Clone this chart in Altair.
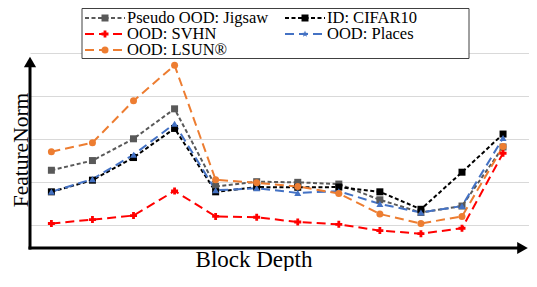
import altair as alt
import pandas as pd

# ---- data ----
depth = list(range(1, 13))
series_names = ["Pseudo OOD: Jigsaw", "ID: CIFAR10", "OOD: SVHN", "OOD: Places", "OOD: LSUN®"]
jigsaw = [3.56, 4.01, 5.02, 6.41, 2.81, 3.03, 3.00, 2.92, 2.19, 1.60, 1.90, 4.64]
cifar10 = [2.56, 3.10, 4.15, 5.50, 2.56, 2.78, 2.77, 2.78, 2.56, 1.75, 3.47, 5.24]
svhn = [1.09, 1.27, 1.46, 2.60, 1.42, 1.38, 1.16, 1.05, 0.76, 0.62, 0.87, 4.35]
places = [2.56, 3.15, 4.28, 5.72, 2.63, 2.73, 2.51, 2.59, 2.00, 1.60, 1.90, 5.06]
lsun = [4.42, 4.84, 6.78, 8.43, 3.12, 2.98, 2.81, 2.48, 1.53, 1.09, 1.42, 4.66]
grid_values = list(range(1, 10))
x_title = "Block Depth"
y_title = "FeatureNorm"

# ---- styles ----
colors = ["#595959", "#000000", "#FF0000", "#4472C4", "#ED7D31"]
dashes = [[4, 2.5], [4, 2.5], [9, 5], [9, 5], [9, 5]]
shapes = ["square", "square", "cross", "triangle-up", "circle"]
star = ("M0,-1L0.235,-0.324L0.951,-0.309L0.38,0.124L0.588,0.809L0,0.4"
        "L-0.588,0.809L-0.38,0.124L-0.951,-0.309L-0.235,-0.324Z")
legend_shapes = ["square", "square", "cross", star, "circle"]
sizes = [49, 49, 50, 60, 64]
FONT = "Liberation Serif"

W, H = 499, 194
PAD = {"left": 22, "top": 45, "right": 0, "bottom": 24}

rows = []
for name, vals in zip(series_names, [jigsaw, cifar10, svhn, places, lsun]):
    for d, v in zip(depth, vals):
        rows.append({"depth": d, "value": v, "series": name})
df = pd.DataFrame(rows)

color_scale = alt.Scale(domain=series_names, range=colors)
dash_scale = alt.Scale(domain=series_names, range=dashes)
shape_scale = alt.Scale(domain=series_names, range=shapes)
lshape_scale = alt.Scale(domain=series_names, range=legend_shapes)
size_scale = alt.Scale(domain=series_names, range=sizes)

xenc = alt.X("depth:Q", scale=alt.Scale(domain=[0.479, 12.632]), axis=None)
yscale = alt.Scale(domain=[0, 9])
yenc = alt.Y("value:Q", scale=yscale,
             axis=alt.Axis(values=grid_values, grid=True, gridColor="#d9d9d9",
                           gridWidth=1, domain=False, ticks=False, labels=False, title=None))

base = alt.Chart(df)
grid = base.mark_line(opacity=0).encode(x=xenc, y=yenc, detail="series:N")

lines = base.mark_line(strokeWidth=2).encode(
    x=xenc, y=alt.Y("value:Q", scale=yscale),
    color=alt.Color("series:N", scale=color_scale, legend=None),
    strokeDash=alt.StrokeDash("series:N", scale=dash_scale, legend=None),
    order=alt.Order("depth:Q"),
)
points = base.mark_point(filled=True, opacity=1).encode(
    x=xenc, y=alt.Y("value:Q", scale=yscale),
    color=alt.Color("series:N", scale=color_scale, legend=None),
    shape=alt.Shape("series:N", scale=shape_scale, legend=None),
    size=alt.Size("series:N", scale=size_scale, legend=None),
)

# axes with arrows
dummy = pd.DataFrame({"k": [0]})
yaxis_line = alt.Chart(dummy).mark_rule(color="black", strokeWidth=3).encode(
    x=alt.value(0), y=alt.value(H + 2.5), y2=alt.value(14))
yaxis_head = alt.Chart(dummy).mark_point(shape="triangle-up", filled=True, color="black",
                                         opacity=1, size=150).encode(
    x=alt.value(0), y=alt.value(9))
xaxis_line = alt.Chart(dummy).mark_rule(color="black", strokeWidth=3).encode(
    x=alt.value(-1.5), x2=alt.value(W - 10), y=alt.value(H + 1))
xaxis_head = alt.Chart(dummy).mark_point(shape="triangle-right", filled=True, color="black",
                                         opacity=1, size=150).encode(
    x=alt.value(W - 6.5), y=alt.value(H + 1))

xt = alt.Chart(pd.DataFrame({"t": [x_title]})).mark_text(
    font=FONT, fontSize=23, color="black", baseline="alphabetic", align="center").encode(
    text="t:N", x=alt.value(224), y=alt.value(H + 20))
yt = alt.Chart(pd.DataFrame({"t": [y_title]})).mark_text(
    font=FONT, fontSize=21.5, color="black", baseline="alphabetic", align="center",
    angle=270).encode(text="t:N", x=alt.value(-2.5), y=alt.value(H / 2))

# legend
box = alt.Chart(dummy).mark_rect(fill="white", stroke="#404040", strokeWidth=1).encode(
    x=alt.value(52), x2=alt.value(439), y=alt.value(-44.5), y2=alt.value(5.5))
leg_rows = []
for i, name in enumerate(series_names):
    r, c = divmod(i, 2)
    x0 = 55 if c == 0 else 255
    leg_rows.append({"series": name, "lx1": x0, "lx2": x0 + 40, "lxm": x0 + 20,
                     "ltx": x0 + 42, "ly": -35 + 16 * r})
ldf = pd.DataFrame(leg_rows)
lbase = alt.Chart(ldf)
leg_lines = lbase.mark_rule(strokeWidth=2).encode(
    x=alt.X("lx1:Q", scale=None), x2="lx2:Q", y=alt.Y("ly:Q", scale=None),
    color=alt.Color("series:N", scale=color_scale, legend=None),
    strokeDash=alt.StrokeDash("series:N", scale=dash_scale, legend=None))
leg_pts = lbase.mark_point(filled=True, opacity=1).encode(
    x=alt.X("lxm:Q", scale=None), y=alt.Y("ly:Q", scale=None),
    color=alt.Color("series:N", scale=color_scale, legend=None),
    shape=alt.Shape("series:N", scale=lshape_scale, legend=None),
    size=alt.Size("series:N", scale=size_scale, legend=None))
leg_txt = lbase.mark_text(font=FONT, fontSize=16.5, color="black", align="left",
                          baseline="middle").encode(
    x=alt.X("ltx:Q", scale=None), y=alt.Y("ly:Q", scale=None), text="series:N")

chart = alt.layer(
    grid, lines, points, yaxis_line, yaxis_head, xaxis_line, xaxis_head, xt, yt,
    box, leg_lines, leg_pts, leg_txt
).resolve_scale(shape="independent").properties(
    width=W, height=H,
    padding=PAD,
    autosize=alt.AutoSizeParams(type="none"),
).configure_view(stroke=None)

chart.save("out.html", embed_options={"renderer": "svg", "actions": False})
